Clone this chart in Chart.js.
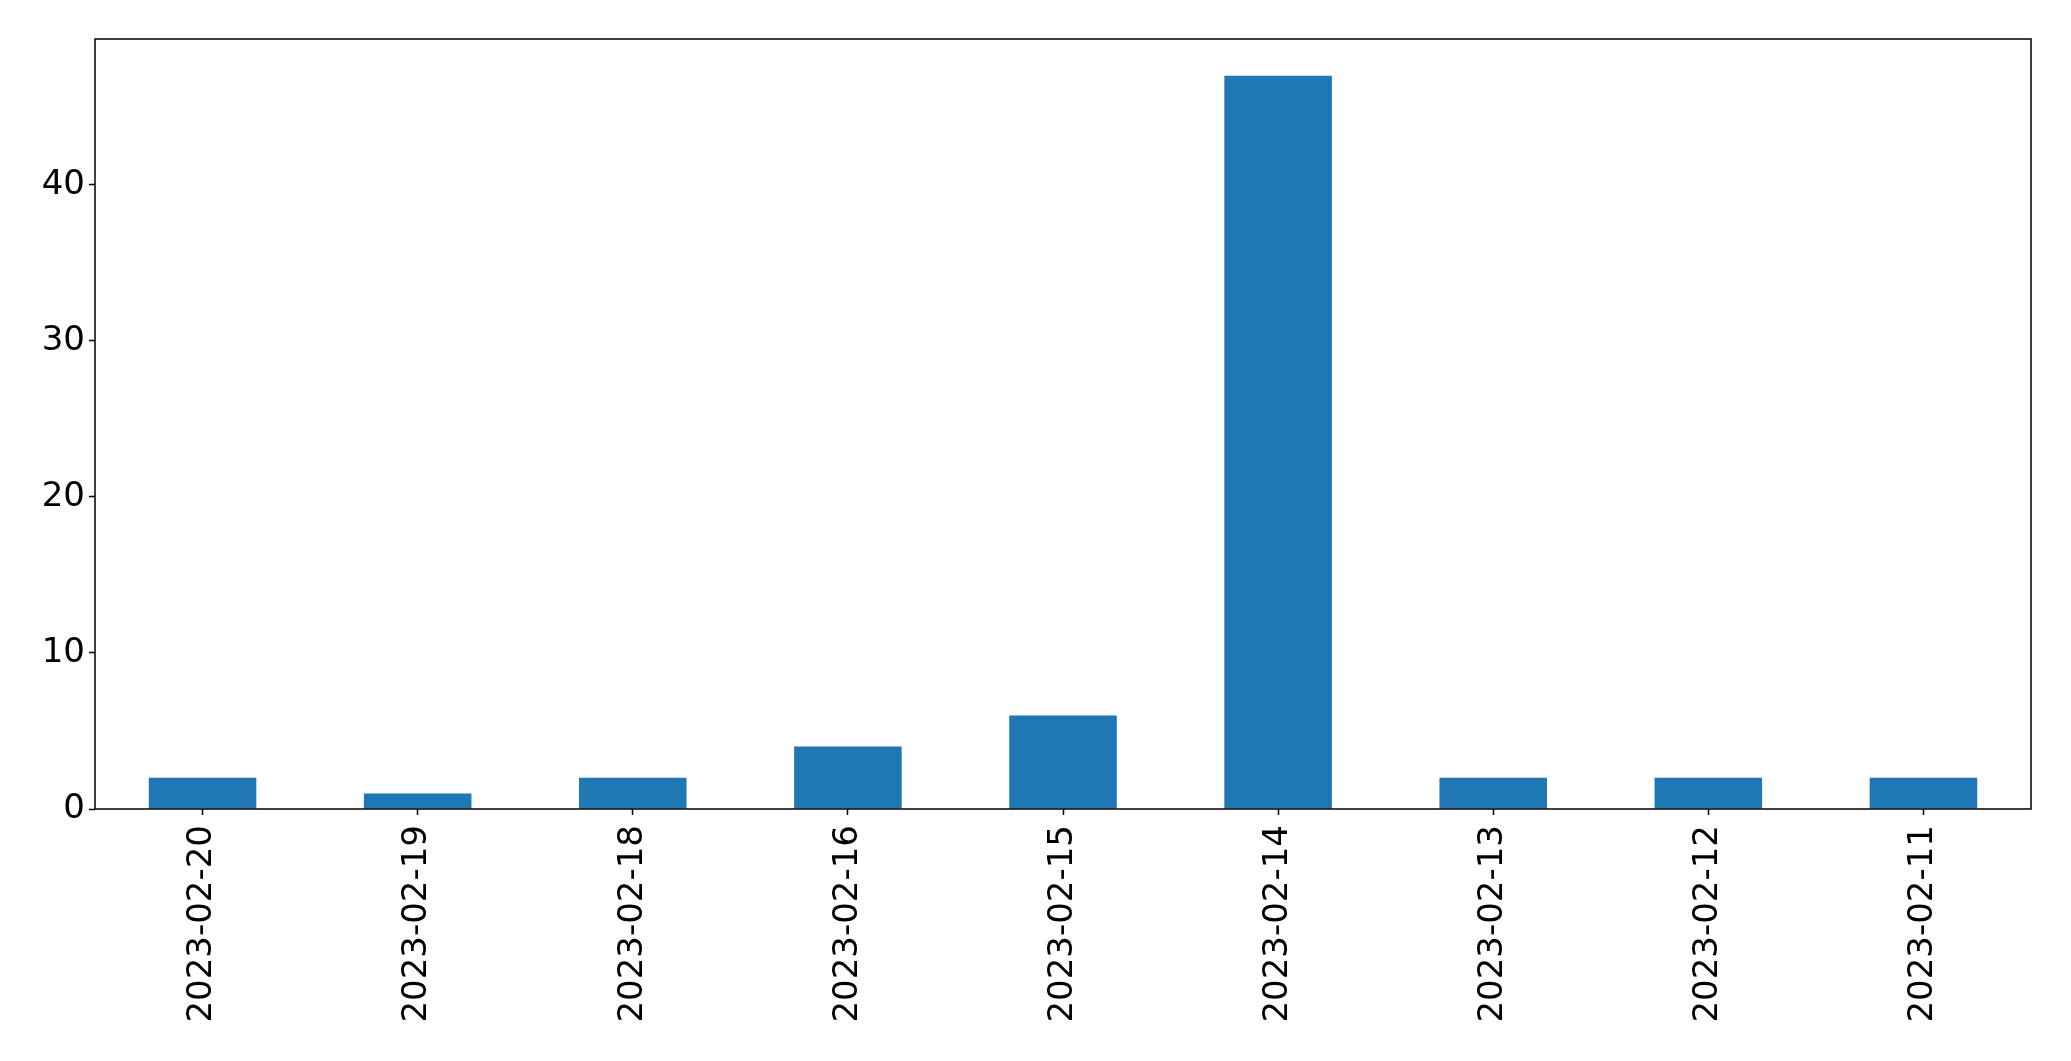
<!DOCTYPE html>
<html>
<head>
<meta charset="utf-8">
<script src="https://cdn.jsdelivr.net/npm/chart.js@4/dist/chart.umd.min.js"></script>
<style>
  html, body { margin: 0; padding: 0; background: #fff; }
  #wrap { width: 2071px; height: 1061px; }
</style>
</head>
<body>
<div id="wrap"><canvas id="c" width="2071" height="1061"></canvas></div>
<script>
// données
const dates = ['2023-02-20', '2023-02-19', '2023-02-18', '2023-02-16', '2023-02-15',
               '2023-02-14', '2023-02-13', '2023-02-12', '2023-02-11'];
const counts = [2, 1, 2, 4, 6, 47, 2, 2, 2];
const yTicks = [0, 10, 20, 30, 40];

const BLUE = '#1f77b4';
const tickFont = { family: 'DejaVu Sans', size: 34 };

// cadre complet autour de la zone de tracé (style matplotlib)
const frame = {
  id: 'frame',
  afterDraw(chart) {
    const { ctx, chartArea: a } = chart;
    ctx.save();
    ctx.strokeStyle = '#000';
    ctx.lineWidth = 1.5;
    ctx.strokeRect(a.left, a.top, a.right - a.left, a.bottom - a.top);
    ctx.restore();
  }
};

new Chart(document.getElementById('c'), {
  type: 'bar',
  data: {
    labels: dates,
    datasets: [{
      data: counts,
      backgroundColor: BLUE,
      borderWidth: 0,
      barPercentage: 0.5,
      categoryPercentage: 1
    }]
  },
  options: {
    responsive: false,
    animation: false,
    layout: { padding: { top: 39, right: 40, left: 0, bottom: 0 } },
    plugins: { legend: { display: false }, tooltip: { enabled: false } },
    scales: {
      x: {
        offset: true,
        grid: { offset: false, drawOnChartArea: false, drawTicks: true, tickLength: 6, tickColor: '#000', tickWidth: 1.5 },
        border: { display: false },
        ticks: { color: '#000', font: tickFont, maxRotation: 90, minRotation: 90, padding: 10, autoSkip: false },
        afterFit: s => { s.height = 252; }
      },
      y: {
        min: 0,
        max: 49.35,
        afterBuildTicks: s => { s.ticks = yTicks.map(v => ({ value: v })); },
        grid: { drawOnChartArea: false, drawTicks: true, tickLength: 6, tickColor: '#000', tickWidth: 1.5 },
        border: { display: false },
        ticks: { color: '#000', font: tickFont, padding: 4 },
        afterFit: s => { s.width = 95; }
      }
    }
  },
  plugins: [frame]
});
</script>
</body>
</html>
